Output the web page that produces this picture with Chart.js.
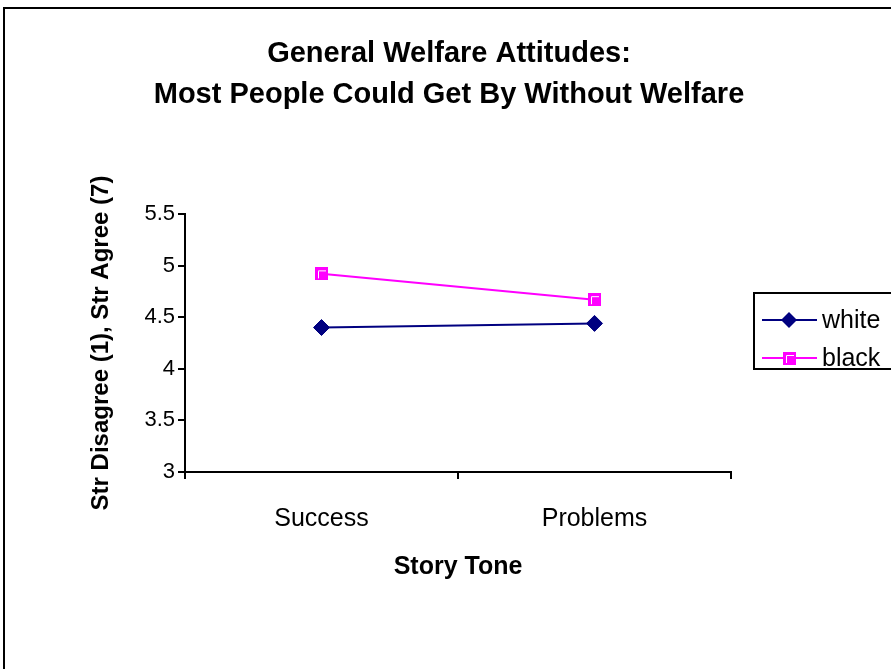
<!DOCTYPE html>
<html>
<head>
<meta charset="utf-8">
<script src="https://cdn.jsdelivr.net/npm/chart.js@4/dist/chart.umd.min.js"></script>
<style>
  body { margin: 0; background: #fff; }
  #wrap { width: 891px; height: 669px; }
</style>
</head>
<body>
<div id="wrap"><canvas id="chart" width="891" height="669"></canvas></div>
<script>
// data
const categories = ['Success', 'Problems'];
const whiteValues = [4.40, 4.44];
const blackValues = [4.92, 4.67];
const yMin = 3;
const yMax = 5.5;
const yStep = 0.5;

const NAVY = '#000080';
const MAGENTA = '#FF00FF';
const FONT = 'Arial, "Liberation Sans", sans-serif';

// magenta square marker with the little white corner, like the original
function squareMarker() {
    const c = document.createElement('canvas');
    c.width = 13; c.height = 13;
    const g = c.getContext('2d');
    g.fillStyle = MAGENTA;
    g.fillRect(0, 0, 13, 13);
    g.strokeStyle = '#fff';
    g.lineWidth = 1;
    g.beginPath();
    g.moveTo(3.5, 11);
    g.lineTo(3.5, 3.5);
    g.lineTo(11, 3.5);
    g.stroke();
    return c;
}
const blackMarker = squareMarker();

// outer frame of the chart sheet
const framePlugin = {
    id: 'frame',
    beforeDraw(chart) {
        const ctx = chart.ctx;
        ctx.save();
        ctx.fillStyle = '#fff';
        ctx.fillRect(0, 0, chart.width, chart.height);
        ctx.strokeStyle = '#000';
        ctx.lineWidth = 2;
        ctx.strokeRect(4, 8, chart.width + 20, chart.height + 20);
        ctx.restore();
    }
};

// boxed legend on the right, cut off by the edge as in the reference
const boxLegend = {
    id: 'boxLegend',
    afterDraw(chart) {
        const ctx = chart.ctx;
        const sets = chart.data.datasets;
        ctx.save();
        ctx.strokeStyle = '#000';
        ctx.lineWidth = 2;
        ctx.strokeRect(754, 293, 200, 76);
        sets.forEach((ds, i) => {
            const y = 320 + i * 38;
            ctx.strokeStyle = ds.borderColor;
            ctx.lineWidth = 2;
            ctx.beginPath();
            ctx.moveTo(762, y);
            ctx.lineTo(817, y);
            ctx.stroke();
            if (ds.pointStyle === 'rectRot') {
                ctx.fillStyle = ds.pointBackgroundColor;
                ctx.beginPath();
                ctx.moveTo(789, y - 8);
                ctx.lineTo(797, y);
                ctx.lineTo(789, y + 8);
                ctx.lineTo(781, y);
                ctx.closePath();
                ctx.fill();
            } else {
                ctx.drawImage(ds.pointStyle, 783, y - 6);
            }
            ctx.fillStyle = '#000';
            ctx.font = '25px ' + FONT;
            ctx.textBaseline = 'middle';
            ctx.textAlign = 'left';
            ctx.fillText(ds.label, 822, y + 1);
        });
        ctx.restore();
    }
};

new Chart(document.getElementById('chart'), {
    type: 'line',
    data: {
        labels: categories,
        datasets: [
            {
                label: 'white',
                data: whiteValues,
                borderColor: NAVY,
                backgroundColor: NAVY,
                borderWidth: 2,
                pointStyle: 'rectRot',
                pointRadius: 8,
                pointBackgroundColor: NAVY,
                pointBorderColor: NAVY,
                pointBorderWidth: 1,
                tension: 0
            },
            {
                label: 'black',
                data: blackValues,
                borderColor: MAGENTA,
                backgroundColor: MAGENTA,
                borderWidth: 2,
                pointStyle: blackMarker,
                pointRadius: 6,
                tension: 0
            }
        ]
    },
    options: {
        responsive: false,
        animation: false,
        devicePixelRatio: 1,
        layout: { padding: { left: 7, right: 0, top: 0, bottom: 87 } },
        plugins: {
            legend: { display: false },
            tooltip: { enabled: false },
            title: {
                display: true,
                text: ['General Welfare Attitudes:', 'Most People Could Get By Without Welfare'],
                color: '#000',
                font: { family: FONT, size: 29, weight: 'bold', lineHeight: '41px' },
                padding: { top: 33.5, bottom: 98.5 }
            }
        },
        scales: {
            x: {
                offset: true,
                grid: {
                    offset: true,
                    drawOnChartArea: false,
                    color: '#000',
                    lineWidth: 2,
                    tickLength: 7
                },
                border: { display: true, color: '#000', width: 2 },
                ticks: {
                    color: '#000',
                    font: { family: FONT, size: 25 },
                    padding: 25,
                    maxRotation: 0
                },
                title: {
                    display: true,
                    text: 'Story Tone',
                    color: '#000',
                    font: { family: FONT, size: 25, weight: 'bold' },
                    padding: 0
                },
                afterFit(scale) { scale.height = 110; }
            },
            y: {
                min: yMin,
                max: yMax,
                grid: {
                    drawOnChartArea: false,
                    color: '#000',
                    lineWidth: 2,
                    tickLength: 7
                },
                border: { display: true, color: '#000', width: 2 },
                ticks: {
                    stepSize: yStep,
                    color: '#000',
                    font: { family: FONT, size: 22 },
                    padding: 3,
                    callback: (v) => String(v)
                },
                title: {
                    display: true,
                    text: 'Str Disagree (1), Str Agree (7)',
                    color: '#000',
                    font: { family: FONT, size: 24, weight: 'bold' },
                    padding: { top: 80, bottom: 0 }
                },
                afterFit(scale) { scale.width = 178; }
            },
            // empty right-hand scale that keeps room for the legend box
            side: {
                position: 'right',
                display: true,
                grid: { display: false },
                border: { display: false },
                ticks: { display: false },
                afterFit(scale) { scale.width = 160; }
            }
        }
    },
    plugins: [framePlugin, boxLegend]
});
</script>
</body>
</html>
